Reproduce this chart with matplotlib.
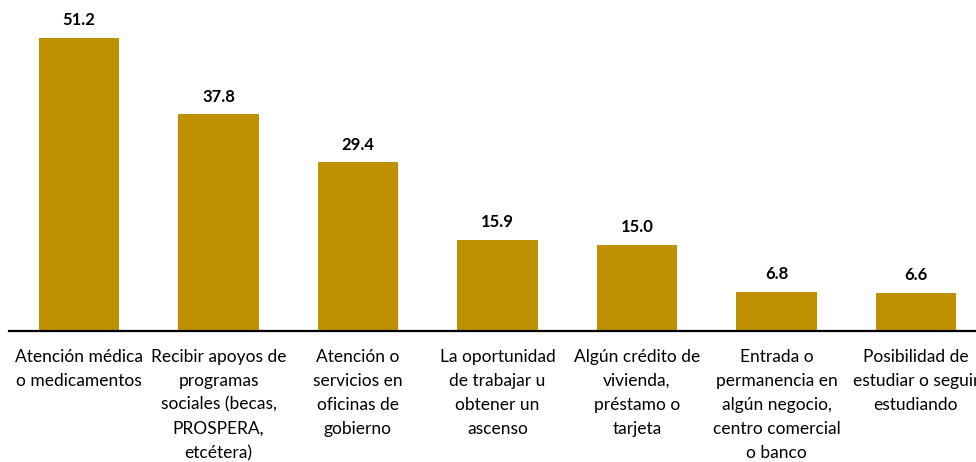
import matplotlib.pyplot as plt

categories = [
    "Atención médica\no medicamentos",
    "Recibir apoyos de\nprogramas\nsociales (becas,\nPROSPERA,\netcétera)",
    "Atención o\nservicios en\noficinas de\ngobierno",
    "La oportunidad\nde trabajar u\nobtener un\nascenso",
    "Algún crédito de\nvivienda,\npréstamo o\ntarjeta",
    "Entrada o\npermanencia en\nalgún negocio,\ncentro comercial\no banco",
    "Posibilidad de\nestudiar o seguir\nestudiando",
]
values = [51.2, 37.8, 29.4, 15.9, 15.0, 6.8, 6.6]

plt.rcParams['font.family'] = ['Lato', 'DejaVu Sans']

fig = plt.figure(figsize=(9.76, 4.62), dpi=100)
# axes spans slightly past the right edge, like the original
ax = fig.add_axes([9.25 / 976, 1 - 330.5 / 462, 976.5 / 976, 330.5 / 462])

x = list(range(len(values)))
bars = ax.bar(x, values, width=0.575, color="#BF9000")
ax.set_xlim(-0.5, len(values) - 0.5)
ax.set_ylim(0, 57.8)

for xi, v in zip(x, values):
    ax.text(xi, v + 1.7, f"{v:.1f}", ha="center", va="bottom",
            fontsize=12, fontweight="bold", color="black")

for s in ["top", "right", "left"]:
    ax.spines[s].set_visible(False)
ax.spines["bottom"].set_linewidth(1.6)
ax.set_yticks([])
ax.set_xticks(x)
ax.set_xticklabels(categories, fontsize=12.5, linespacing=1.62)
ax.tick_params(axis="x", length=0, pad=13)

fig.savefig("out.png", dpi=100)
